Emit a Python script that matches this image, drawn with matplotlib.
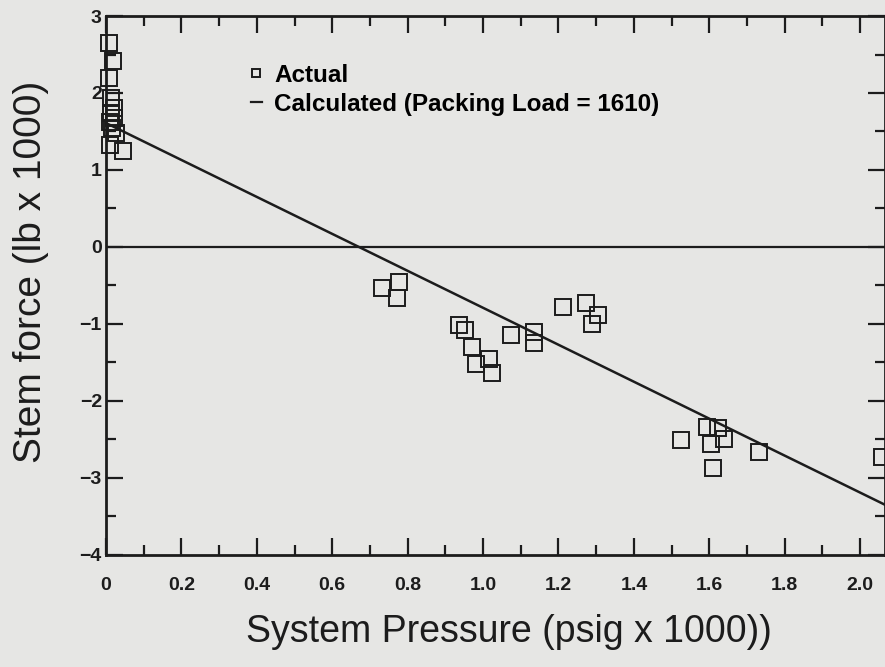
import matplotlib
matplotlib.use('Agg')
import matplotlib.pyplot as plt
from matplotlib.lines import Line2D
from matplotlib.ticker import MultipleLocator

plt.rcParams['font.family'] = ['Liberation Sans', 'DejaVu Sans']

# measured points (pressure in psig x 1000, stem force in lb x 1000)
act_x = [0.008, 0.018, 0.008, 0.012, 0.022, 0.012, 0.022, 0.01, 0.016, 0.026, 0.01, 0.046,
         0.731, 0.778, 0.773,
         0.935, 0.951, 0.970, 0.980, 1.015, 1.023, 1.073, 1.134, 1.134,
         1.211, 1.272, 1.306, 1.288,
         1.524, 1.595, 1.622, 1.638, 1.604, 1.611, 1.731, 2.057]
act_y = [2.65, 2.42, 2.19, 1.94, 1.80, 1.74, 1.68, 1.62, 1.55, 1.48, 1.32, 1.25,
         -0.53, -0.45, -0.66,
         -1.01, -1.08, -1.30, -1.52, -1.45, -1.64, -1.14, -1.10, -1.25,
         -0.78, -0.73, -0.88, -1.00,
         -2.51, -2.34, -2.35, -2.49, -2.56, -2.87, -2.66, -2.73]

# calculated line (packing load = 1610)
calc_x = [0.0, 2.1]
calc_y = [1.61, -3.43]

xticks = [0, 0.2, 0.4, 0.6, 0.8, 1.0, 1.2, 1.4, 1.6, 1.8, 2.0]
xtick_labels = ['0', '0.2', '0.4', '0.6', '0.8', '1.0', '1.2', '1.4', '1.6', '1.8', '2.0']
yticks = [-4, -3, -2, -1, 0, 1, 2, 3]

bg = '#e6e6e4'
ink = '#1c1c1c'

fig = plt.figure(figsize=(8.85, 6.67), dpi=100, facecolor=bg)
ax = fig.add_axes([0.1198, 0.168, 0.8802, 0.808])
ax.set_facecolor(bg)

ax.axhline(0, color=ink, lw=1.6)
ax.plot(calc_x, calc_y, color=ink, lw=1.8)
ax.plot(act_x, act_y, ls='none', marker='s', ms=11, mfc='none', mec=ink, mew=1.4,
        clip_on=False)

ax.set_xlim(0, 2.066)
ax.set_ylim(-4, 3)
ax.set_xticks(xticks)
ax.set_xticklabels(xtick_labels)
ax.set_yticks(yticks)
ax.xaxis.set_minor_locator(MultipleLocator(0.1))
ax.yaxis.set_minor_locator(MultipleLocator(0.5))
ax.tick_params(which='both', direction='in', top=True, right=True, colors=ink,
               width=1.6, labelsize=14)
ax.tick_params(which='major', length=12)
ax.tick_params(which='minor', length=7)
ax.tick_params(axis='x', which='major', pad=16)
ax.tick_params(axis='y', which='major', pad=3)
for lab in ax.get_xticklabels() + ax.get_yticklabels():
    lab.set_fontweight('bold')
for s in ax.spines.values():
    s.set_linewidth(2)
    s.set_color(ink)

ax.set_xlabel('System Pressure (psig x 1000))', fontsize=27, color=ink)
ax.set_ylabel('Stem force (lb x 1000)', fontsize=28, color=ink)
ax.xaxis.set_label_coords(0.517, -0.11)
ax.yaxis.set_label_coords(-0.073, 0.525)

handles = [Line2D([], [], ls='none', marker='s', ms=6, mfc='none', mec=ink, mew=1.4),
           Line2D([], [], color=ink, lw=1.6)]
ax.legend(handles, ['Actual', 'Calculated (Packing Load = 1610)'],
          loc='upper left', bbox_to_anchor=(0.158, 0.952), frameon=False,
          handlelength=0.45, handletextpad=0.5, labelspacing=0.25,
          prop={'size': 17.5, 'weight': 'bold'})

fig.savefig('out.png', dpi=100, facecolor=bg)
